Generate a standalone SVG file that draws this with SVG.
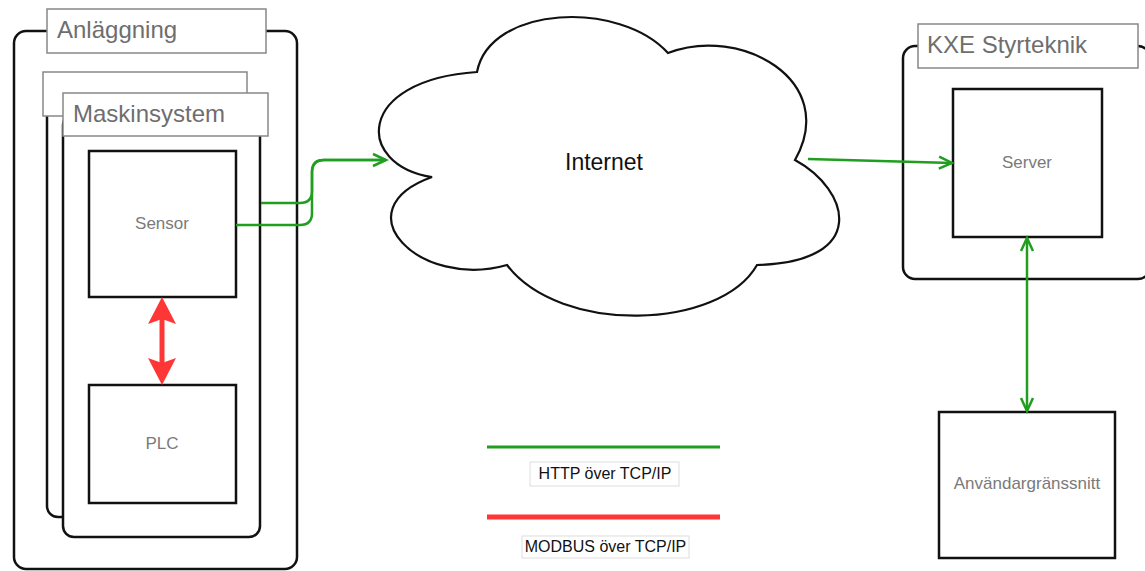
<svg xmlns="http://www.w3.org/2000/svg" width="1145" height="571" viewBox="0 0 1145 571">
<defs>
<style>
.cont{fill:#fff;stroke:#111;stroke-width:2.5}
.box{fill:#fff;stroke:#111;stroke-width:2.5}
.tbox{fill:#fff;stroke:#888;stroke-width:1.5}
.lbox{fill:#fff;stroke:#ddd;stroke-width:1}
.title{font-family:"Liberation Sans",Arial,sans-serif;font-size:24px;fill:#6e6e6e}
.name{font-family:"Liberation Sans",Arial,sans-serif;font-size:17px;fill:#7a7a7a;text-anchor:middle}
.leg{font-family:"Liberation Sans",Arial,sans-serif;font-size:16px;fill:#111;text-anchor:middle}
.g{fill:none;stroke:#1f9e1f;stroke-width:2.5}
.r{fill:none;stroke:#ff3636;stroke-width:5}
</style>
<marker id="ga" markerUnits="userSpaceOnUse" orient="auto-start-reverse" overflow="visible" refX="0" refY="0">
<path d="M-13 -6 L0 0 L-13 6" fill="none" stroke="#1f9e1f" stroke-width="2.5" stroke-linejoin="miter"/>
</marker>
<marker id="ra" markerUnits="userSpaceOnUse" orient="auto-start-reverse" overflow="visible" refX="0" refY="0">
<path d="M21 0 L-6 -14 L-1 0 L-6 14 Z" fill="#ff3636"/>
</marker>
</defs>
<rect width="1145" height="571" fill="#fff"/>

<g id="anlaggning">
<rect class="cont" x="14" y="31" width="283" height="538" rx="12"/>
<rect class="tbox" x="47" y="9" width="219" height="44"/>
<text class="title" x="57" y="38">Anläggning</text>
</g>

<g id="maskinsystem-back">
<rect class="cont" x="47" y="95" width="197" height="422" rx="11"/>
<rect class="tbox" x="43" y="72" width="204" height="44"/>
</g>

<g id="maskinsystem">
<rect class="cont" x="63" y="114" width="197" height="423" rx="11"/>
<rect class="tbox" x="63" y="93" width="205" height="43"/>
<text class="title" x="73" y="121.5">Maskinsystem</text>
</g>

<g id="sensor">
<rect class="box" x="89" y="151" width="147" height="146"/>
<text class="name" x="162" y="229">Sensor</text>
</g>

<g id="plc">
<rect class="box" x="89" y="385" width="147" height="118"/>
<text class="name" x="162" y="449">PLC</text>
</g>

<g id="internet">
<path d="M432 177 C355 165 355 80 477 72 C490 5 620 0 668 53 C740 25 840 80 795 160 C850 190 870 262 757 265 C720 330 560 335 507 265 C420 290 340 210 432 177 Z" fill="#fff" stroke="#111" stroke-width="2.2"/>
<text x="604" y="170" font-family="'Liberation Sans',Arial,sans-serif" font-size="23" fill="#111" text-anchor="middle">Internet</text>
</g>

<g id="kxe">
<rect class="cont" x="903" y="46" width="247" height="233" rx="12"/>
<rect class="tbox" x="918" y="24" width="220" height="44"/>
<text class="title" x="927" y="53">KXE Styrteknik</text>
</g>

<g id="server">
<rect class="box" x="953" y="89" width="149" height="148"/>
<text class="name" x="1027" y="168">Server</text>
</g>

<g id="anvandargranssnitt">
<rect class="box" x="939" y="412" width="176" height="146"/>
<text class="name" x="1027" y="489">Användargränssnitt</text>
</g>

<g id="connectors">
<path class="g" d="M236 225 H300 Q312 225 312 213 V172 Q312 160 324 160 H386" marker-end="url(#ga)"/>
<path class="g" d="M261 203 H300 Q312 203 312 191 V172 Q312 160 324 160 H386"/>
<path class="g" d="M808 159 L952 163" marker-end="url(#ga)"/>
<path class="g" d="M1027 238 V411" marker-start="url(#ga)" marker-end="url(#ga)"/>
<path class="r" d="M162 318 V364" marker-start="url(#ra)" marker-end="url(#ra)"/>
</g>

<g id="legend">
<line x1="487" y1="447" x2="720" y2="447" stroke="#1f9e1f" stroke-width="3"/>
<rect class="lbox" x="530" y="462" width="149" height="24"/>
<text class="leg" x="605" y="479">HTTP över TCP/IP</text>
<line x1="487" y1="517" x2="720" y2="517" stroke="#ff3636" stroke-width="5"/>
<rect class="lbox" x="522" y="536" width="167" height="22"/>
<text class="leg" x="605.5" y="552">MODBUS över TCP/IP</text>
</g>
</svg>
